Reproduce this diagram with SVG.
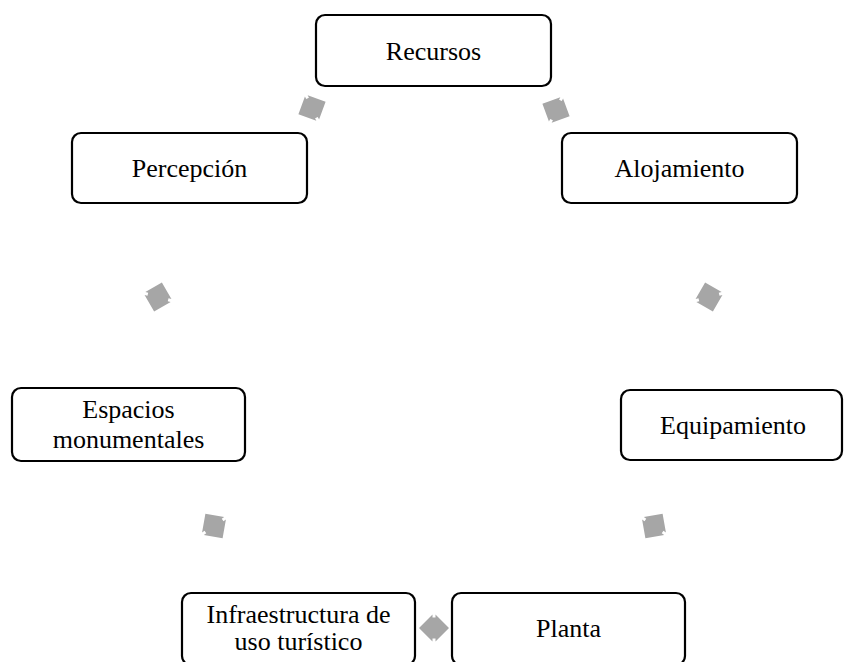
<svg xmlns="http://www.w3.org/2000/svg" width="844" height="662" viewBox="0 0 844 662">
<defs>
<style>
.box{fill:#fff;stroke:#000;stroke-width:2.2}
.t{font-family:"Liberation Serif","Times New Roman",serif;font-size:26px;fill:#000;text-anchor:middle}
.arr{fill:#a6a6a6}
</style>
<path id="da" d="M-15,0 L-1.5,-13.5 L-1.5,-10.5 L1.5,-10.5 L1.5,-13.5 L15,0 L1.5,13.5 L1.5,10.5 L-1.5,10.5 L-1.5,13.5 Z"/>
</defs>
<rect width="844" height="662" fill="#fff"/>
<g id="connectors">
<use href="#da" class="arr" transform="translate(312,108) rotate(-25)"/>
<use href="#da" class="arr" transform="translate(556,110) rotate(25)"/>
<use href="#da" class="arr" transform="translate(709,297) rotate(75)"/>
<use href="#da" class="arr" transform="translate(654,526) rotate(125)"/>
<use href="#da" class="arr" transform="translate(434,628)"/>
<use href="#da" class="arr" transform="translate(214,526) rotate(55)"/>
<use href="#da" class="arr" transform="translate(158,297) rotate(105)"/>
</g>
<g id="recursos">
<rect class="box" x="316" y="15" width="235" height="71" rx="9"/>
<text class="t" x="433.5" y="60">Recursos</text>
</g>
<g id="alojamiento">
<rect class="box" x="562" y="133" width="235" height="70" rx="9"/>
<text class="t" x="679.5" y="177">Alojamiento</text>
</g>
<g id="equipamiento">
<rect class="box" x="621" y="390" width="221" height="70" rx="9"/>
<text class="t" x="733" y="434">Equipamiento</text>
</g>
<g id="planta">
<rect class="box" x="452" y="593" width="233" height="72" rx="9"/>
<text class="t" x="568.5" y="637">Planta</text>
</g>
<g id="infraestructura">
<rect class="box" x="182" y="593" width="233" height="72" rx="9"/>
<text class="t" x="298.5" y="623">Infraestructura de</text>
<text class="t" x="298.5" y="650">uso turístico</text>
</g>
<g id="espacios">
<rect class="box" x="12" y="388" width="233" height="73" rx="9"/>
<text class="t" x="128.5" y="418">Espacios</text>
<text class="t" x="128.5" y="448">monumentales</text>
</g>
<g id="percepcion">
<rect class="box" x="72" y="133" width="235" height="70" rx="9"/>
<text class="t" x="189.5" y="177">Percepción</text>
</g>
</svg>
